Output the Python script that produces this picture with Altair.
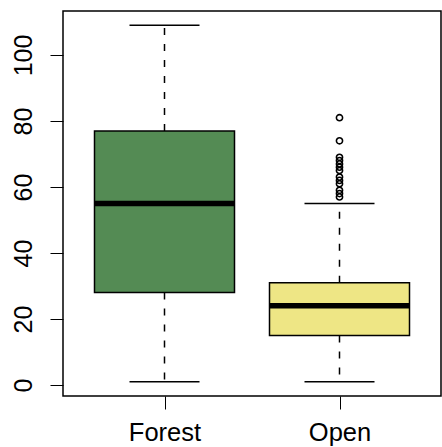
import altair as alt
import pandas as pd

# Five-number summaries per habitat
habitats = ["Forest", "Open"]
fills = ["#548B54", "#EEE685"]
whisker_low = [1, 1]
quartile_1 = [28, 15]
medians = [55, 24]
quartile_3 = [77, 31]
whisker_high = [109, 55]

# Points beyond the upper whisker of the "Open" group
outlier_values = [57, 58, 59, 61, 62, 63, 65, 66, 67, 68, 69, 74, 81]
outlier_group = ["Open"] * len(outlier_values)

FONT = "Liberation Sans"

stats = pd.DataFrame({
    "habitat": habitats,
    "pos": list(range(1, len(habitats) + 1)),
    "lo": whisker_low,
    "q1": quartile_1,
    "med": medians,
    "q3": quartile_3,
    "hi": whisker_high,
})
outliers = pd.DataFrame({"habitat": outlier_group, "value": outlier_values})
outliers["pos"] = outliers["habitat"].map({h: i + 1 for i, h in enumerate(habitats)})

n = len(habitats)
x_scale = alt.Scale(domain=[0.5 - 0.04 * n, n + 0.5 + 0.04 * n], nice=False, zero=False)
y_lo, y_hi = min(whisker_low), max(whisker_high)
span = y_hi - y_lo
y_scale = alt.Scale(domain=[y_lo - 0.04 * span, y_hi + 0.04 * span], nice=False, zero=False)

label_expr = " : ".join(
    f"datum.value == {i + 1} ? '{h}'" for i, h in enumerate(habitats)
) + " : ''"

x_axis = alt.Axis(values=list(range(1, n + 1)), labelExpr=label_expr, title=None,
                  domain=False, grid=False, tickSize=13, tickColor="black",
                  labelFont=FONT, labelFontSize=25.5, labelColor="black",
                  labelPadding=11, labelBaseline="top")
y_axis = alt.Axis(values=[0, 20, 40, 60, 80, 100], title=None, domain=False, grid=False,
                  tickSize=13, tickColor="black", labelFont=FONT, labelFontSize=25,
                  labelColor="black", labelAngle=270, labelAlign="center",
                  labelBaseline="alphabetic", labelPadding=19)

base = alt.Chart(stats).transform_calculate(
    left="datum.pos - 0.4", right="datum.pos + 0.4",
    capl="datum.pos - 0.2", capr="datum.pos + 0.2",
)

dash = [7, 9]
lower_whisker = base.mark_rule(color="black", strokeWidth=1.5, strokeDash=dash).encode(
    x=alt.X("pos:Q", scale=x_scale, axis=x_axis),
    y=alt.Y("q1:Q", scale=y_scale, axis=y_axis),
    y2="lo:Q",
)
upper_whisker = base.mark_rule(color="black", strokeWidth=1.5, strokeDash=dash).encode(
    x=alt.X("pos:Q", scale=x_scale), y=alt.Y("q3:Q", scale=y_scale), y2="hi:Q",
)
low_cap = base.mark_rule(color="black", strokeWidth=1.5).encode(
    x=alt.X("capl:Q", scale=x_scale), x2="capr:Q", y=alt.Y("lo:Q", scale=y_scale),
)
high_cap = base.mark_rule(color="black", strokeWidth=1.5).encode(
    x=alt.X("capl:Q", scale=x_scale), x2="capr:Q", y=alt.Y("hi:Q", scale=y_scale),
)
boxes = base.mark_rect(stroke="black", strokeWidth=1.5).encode(
    x=alt.X("left:Q", scale=x_scale), x2="right:Q",
    y=alt.Y("q1:Q", scale=y_scale), y2="q3:Q",
    fill=alt.Fill("habitat:N", scale=alt.Scale(domain=habitats, range=fills), legend=None),
)
median_lines = base.mark_rule(color="black", strokeWidth=5.5).encode(
    x=alt.X("left:Q", scale=x_scale), x2="right:Q", y=alt.Y("med:Q", scale=y_scale),
)
points = alt.Chart(outliers).mark_point(shape="circle", filled=False, color="black",
                                        size=38, strokeWidth=1.6, opacity=1).encode(
    x=alt.X("pos:Q", scale=x_scale), y=alt.Y("value:Q", scale=y_scale),
)

chart = alt.layer(
    lower_whisker, upper_whisker, low_cap, high_cap, boxes, median_lines, points
).properties(
    width=378, height=385,
    autosize=alt.AutoSizeParams(type="none"),
    padding={"left": 63, "top": 11, "right": 1, "bottom": 51},
    background="white",
).configure_view(stroke="black", strokeWidth=1.5)

chart.save("out.html", embed_options={"renderer": "svg", "actions": False})
